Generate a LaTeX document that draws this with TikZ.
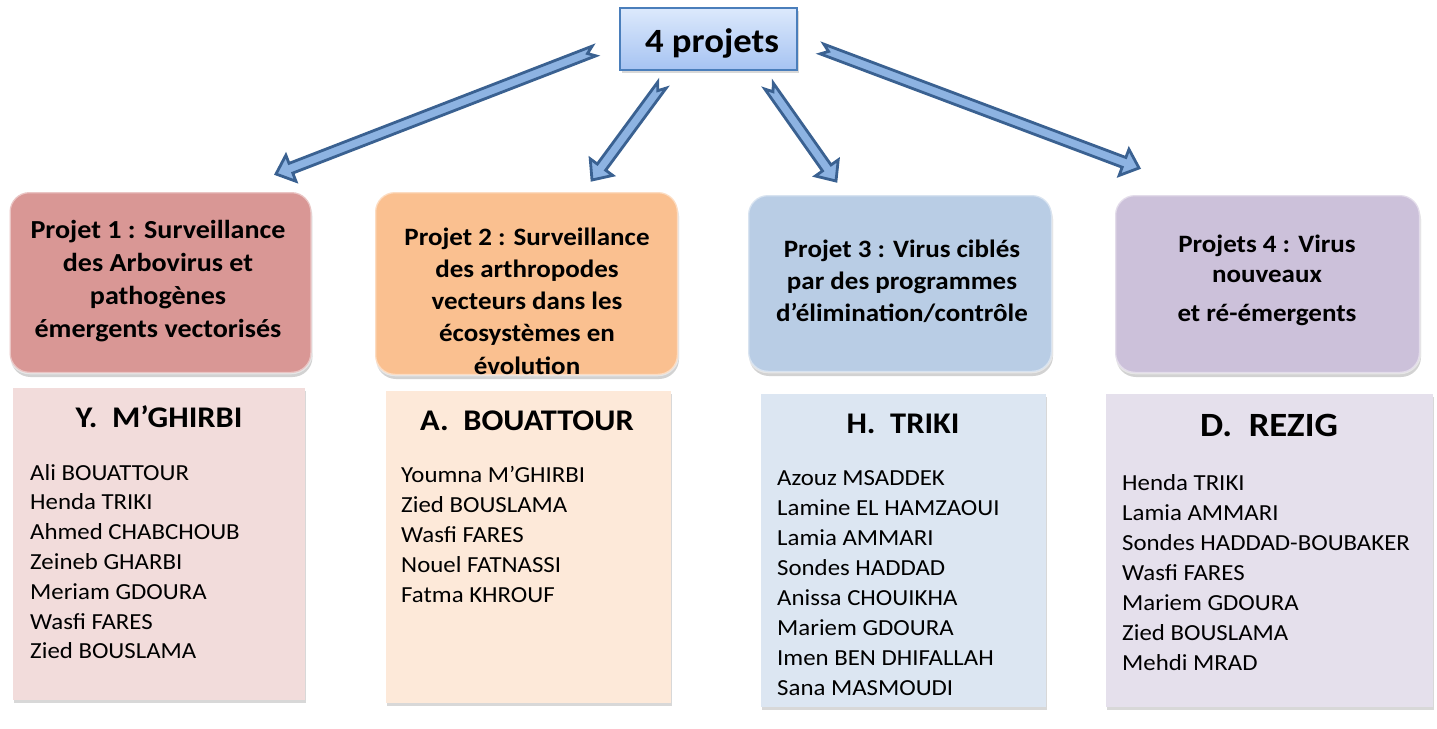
\documentclass[tikz,border=0pt]{standalone}
\usepackage{fontspec}
\setmainfont{Carlito}[FakeStretch=1.08]
\usetikzlibrary{calc,shadows}
\definecolor{arrowfill}{HTML}{8DB3E2}
\definecolor{arrowline}{HTML}{3A6191}
\definecolor{topline}{HTML}{4A7EBB}
\definecolor{toptop}{HTML}{DCE9FC}
\definecolor{topbot}{HTML}{A6C3F2}
\definecolor{pA}{HTML}{D99795}
\definecolor{pB}{HTML}{FAC090}
\definecolor{pC}{HTML}{B9CDE5}
\definecolor{pD}{HTML}{CCC1DA}
\definecolor{lA}{HTML}{F2DCDB}
\definecolor{lB}{HTML}{FDE9D9}
\definecolor{lC}{HTML}{DCE6F2}
\definecolor{lD}{HTML}{E5E0EC}
\tikzset{
  blockarrow/.style={draw=arrowline, fill=arrowfill, line width=2.8pt, line join=miter},
  topbox/.style={draw=topline, line width=1.5pt, top color=toptop, bottom color=topbot,
    inner sep=0pt, drop shadow={shadow xshift=2pt, shadow yshift=-3pt, opacity=.3}},
  projbox/.style={rounded corners=20pt, inner sep=0pt, draw=white, draw opacity=.45, line width=2.5pt,
    drop shadow={shadow xshift=1pt, shadow yshift=-4pt, opacity=.35}},
  listbox/.style={inner sep=0pt, draw=none,
    drop shadow={shadow xshift=1pt, shadow yshift=-3pt, opacity=.3}},
  projtext/.style={align=center, inner sep=0pt, font=\bfseries\fontsize{26}{33}\selectfont},
  headtext/.style={anchor=base, inner sep=0pt, font=\bfseries\fontsize{30}{36}\selectfont},
  nametext/.style={anchor=base west, inner sep=0pt, font=\fontsize{23}{30}\selectfont},
}
\newcommand\blockarrow[2]{%
  \coordinate (#1-n) at ($(#1)!7pt!(#2)$);
  \coordinate (#1-q) at ($(#2)!16pt!(#1)$);
  \draw[blockarrow] ($(#1)!5.2pt!90:(#2)$) -- ($(#1-q)!5.2pt!90:(#2)$) -- ($(#1-q)!14pt!90:(#2)$)
    -- (#2) -- ($(#1-q)!14pt!-90:(#2)$) -- ($(#1-q)!5.2pt!-90:(#2)$) -- ($(#1)!5.2pt!-90:(#2)$)
    -- (#1-n) -- cycle;
}
\begin{document}
\begin{tikzpicture}[x=1pt,y=-1pt]
\useasboundingbox[fill=white] (0,0) rectangle (1437,728);

% top box
\node[topbox, minimum width=177pt, minimum height=62pt] (top) at (708.5,39) {};
\node[anchor=base, inner sep=0pt, font=\bfseries\fontsize{34}{40}\selectfont] (toptext) at (712,52) {4 projets};

% project boxes
\node[projbox, fill=pA, minimum width=302pt, minimum height=181pt] (p1) at (160.5,282.5) {};
\node[projbox, fill=pB, minimum width=303pt, minimum height=183pt] (p2) at (526.5,283.5) {};
\node[projbox, fill=pC, minimum width=304pt, minimum height=177pt] (p3) at (900,283.5) {};
\node[projbox, fill=pD, minimum width=305pt, minimum height=178pt] (p4) at (1267.5,284) {};

\node[projtext] (p1t) at (158,281) {Projet 1 : Surveillance\\des Arbovirus et\\pathogènes\\émergents vectorisés};
\node[projtext, font=\bfseries\fontsize{25}{32.3}\selectfont] (p2t) at (527,301) {Projet 2 : Surveillance\\des arthropodes\\vecteurs dans les\\écosystèmes en\\évolution};
\node[projtext, font=\bfseries\fontsize{25}{32}\selectfont] (p3t) at (902,281) {Projet 3 : Virus ciblés\\par des programmes\\d’élimination/contrôle};
\node[projtext, font=\bfseries\fontsize{25}{30}\selectfont] (p4t) at (1267,280) {Projets 4 : Virus\\nouveaux\\[9pt]et ré-émergents};

% arrows
\coordinate (t1) at (594,51);  \coordinate (h1) at (276,174);
\coordinate (t2) at (662,85);  \coordinate (h2) at (592,180);
\coordinate (t3) at (769,86);  \coordinate (h3) at (836,181);
\coordinate (t4) at (822,49);  \coordinate (h4) at (1139,168);
\blockarrow{t1}{h1}
\blockarrow{t2}{h2}
\blockarrow{t3}{h3}
\blockarrow{t4}{h4}

% list boxes
\node[listbox, fill=lA, minimum width=292pt, minimum height=312pt] (l1) at (159,544) {};
\node[listbox, fill=lB, minimum width=285pt, minimum height=312pt] (l2) at (528,547) {};
\node[listbox, fill=lC, minimum width=285pt, minimum height=313pt] (l3) at (903.5,550.5) {};
\node[listbox, fill=lD, minimum width=327pt, minimum height=313pt] (l4) at (1269.5,550.5) {};

\node[headtext] (l1h) at (159,427) {Y.~~M’GHIRBI};
\node[headtext] (l2h) at (527,430) {A.~~BOUATTOUR};
\node[headtext] (l3h) at (903,433) {H.~~TRIKI};
\node[headtext, font=\bfseries\fontsize{34}{40}\selectfont] (l4h) at (1269,436) {D.~~REZIG};

\foreach \n [count=\i from 0] in {Ali BOUATTOUR, Henda TRIKI, Ahmed CHABCHOUB, Zeineb GHARBI, Meriam GDOURA, Wasfi FARES, Zied BOUSLAMA}
  \node[nametext] (a\i) at (30,480+29.8*\i) {\n};
\foreach \n [count=\i from 0] in {Youmna M’GHIRBI, Zied BOUSLAMA, Wasfi FARES, Nouel FATNASSI, Fatma KHROUF}
  \node[nametext] (b\i) at (401,482+30*\i) {\n};
\foreach \n [count=\i from 0] in {Azouz MSADDEK, Lamine EL HAMZAOUI, Lamia AMMARI, Sondes HADDAD, Anissa CHOUIKHA, Mariem GDOURA, Imen BEN DHIFALLAH, Sana MASMOUDI}
  \node[nametext] (c\i) at (777,485+30*\i) {\n};
\foreach \n [count=\i from 0] in {Henda TRIKI, Lamia AMMARI, Sondes HADDAD-BOUBAKER, Wasfi FARES, Mariem GDOURA, Zied BOUSLAMA, Mehdi MRAD}
  \node[nametext] (d\i) at (1122,490+30*\i) {\n};
\end{tikzpicture}
\end{document}
